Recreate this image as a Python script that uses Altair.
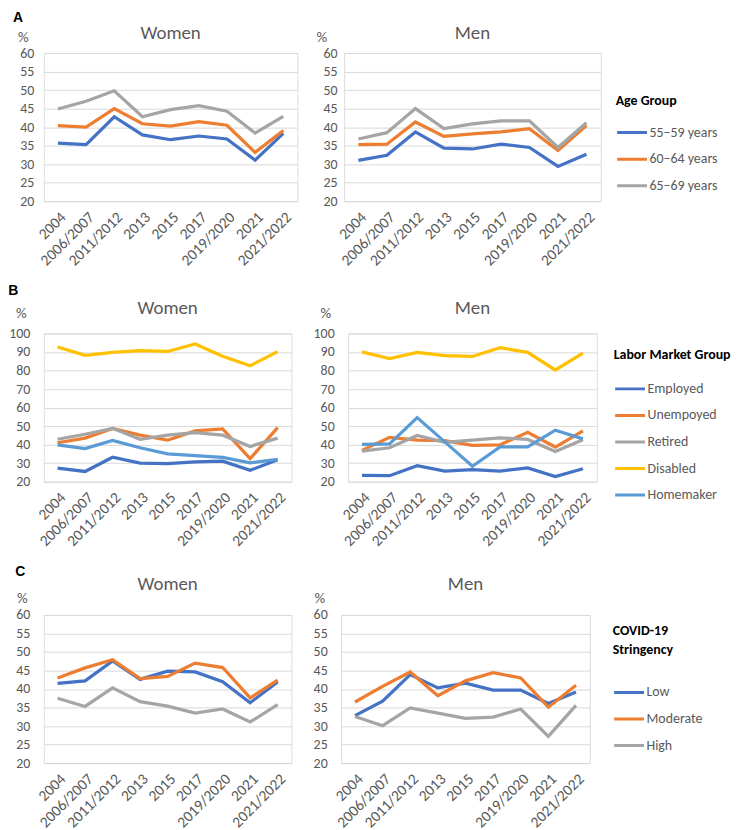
import altair as alt
import pandas as pd

periods = ["2004", "2006/2007", "2011/2012", "2013", "2015", "2017", "2019/2020", "2021", "2021/2022"]

# Panel A: Age group
age_groups = ["55–59 years", "60–64 years", "65–69 years"]
a_women_55 = [35.7, 35.3, 42.8, 37.9, 36.6, 37.6, 36.8, 31.1, 38.3]
a_women_60 = [40.4, 40.0, 45.0, 40.9, 40.3, 41.5, 40.5, 33.2, 39.1]
a_women_65 = [44.9, 47.0, 49.8, 42.8, 44.7, 45.8, 44.3, 38.4, 42.9]
a_men_55 = [31.0, 32.4, 38.7, 34.3, 34.1, 35.4, 34.5, 29.4, 32.7]
a_men_60 = [35.3, 35.4, 41.4, 37.5, 38.2, 38.7, 39.6, 33.7, 40.4]
a_men_65 = [36.8, 38.5, 45.0, 39.6, 40.9, 41.7, 41.7, 34.5, 41.2]

# Panel B: Labor market group
labor_groups = ["Employed", "Unempoyed", "Retired", "Disabled", "Homemaker"]
b_women_employed = [27.3, 25.5, 33.2, 30.0, 29.8, 30.7, 31.1, 26.1, 31.8]
b_women_unemployed = [41.0, 43.5, 48.7, 45.1, 42.4, 47.4, 48.5, 32.5, 49.2]
b_women_retired = [42.9, 45.6, 48.8, 42.9, 45.1, 46.5, 45.1, 39.0, 43.5]
b_women_disabled = [92.7, 88.2, 89.8, 90.7, 90.3, 94.3, 87.7, 82.6, 90.2]
b_women_homemaker = [39.9, 37.9, 42.2, 38.3, 35.0, 34.0, 33.1, 30.2, 32.0]
b_men_employed = [23.4, 23.2, 28.6, 25.7, 26.5, 25.7, 27.4, 22.7, 27.0]
b_men_unemployed = [36.9, 43.9, 42.4, 42.1, 39.6, 39.9, 46.7, 38.7, 47.4]
b_men_retired = [36.5, 38.3, 44.9, 41.2, 42.4, 43.7, 42.8, 36.3, 42.6]
b_men_disabled = [90.1, 86.5, 89.8, 88.0, 87.6, 92.3, 89.8, 80.3, 89.4]
b_men_homemaker = [40.1, 40.4, 54.6, 41.5, 28.3, 38.8, 38.8, 47.8, 43.1]

# Panel C: COVID-19 stringency
covid_groups = ["Low", "Moderate", "High"]
c_women_low = [41.5, 42.2, 47.6, 42.6, 44.8, 44.6, 42.0, 36.3, 41.9]
c_women_moderate = [43.0, 45.7, 47.9, 42.8, 43.4, 47.0, 45.8, 37.6, 42.4]
c_women_high = [37.5, 35.3, 40.3, 36.6, 35.4, 33.5, 34.6, 31.1, 35.8]
c_men_low = [32.8, 36.7, 43.9, 40.3, 41.6, 39.7, 39.7, 36.1, 39.2]
c_men_moderate = [36.5, 40.7, 44.6, 38.2, 42.2, 44.4, 43.0, 35.1, 41.0]
c_men_high = [32.6, 30.1, 34.9, 33.5, 32.1, 32.4, 34.6, 27.2, 35.6]

three_colors = ["#4472C4", "#ED7D31", "#A5A5A5"]
five_colors = ["#4472C4", "#ED7D31", "#A5A5A5", "#FFC000", "#5B9BD5"]

FONT = "Carlito, Calibri, Lato, sans-serif"
GRAY = "#595959"


def make_df(series, groups):
    rows = []
    for g, vals in zip(groups, series):
        for p, v in zip(periods, vals):
            rows.append({"period": p, "group": g, "value": v})
    return pd.DataFrame(rows)


def make_legend(x, y, title, tpad):
    return alt.Legend(
        orient="none", legendX=x, legendY=y, title=title,
        titleFont=FONT, titleFontSize=14, titleFontWeight="bold", titleColor="black",
        titlePadding=tpad, titleLineHeight=19,
        labelFont=FONT, labelFontSize=14, labelColor=GRAY, labelOffset=1, labelLimit=200,
        symbolType="stroke", symbolSize=900, symbolStrokeWidth=3,
        clipHeight=16, rowPadding=10.7, padding=0,
    )


def panel(df, title, title_offset, groups, colors, ydomain, yvalues, width, label_pad, pct_xy, legend):
    return alt.Chart(
        df,
        title=alt.TitleParams(title, fontSize=19, font=FONT, color=GRAY, fontWeight="normal",
                              offset=title_offset, anchor="middle"),
    ).mark_line(strokeWidth=3.25).encode(
        x=alt.X("period:N", sort=periods, scale=alt.Scale(type="point", padding=0.5),
                axis=alt.Axis(title=None, labelAngle=-45, labelFontSize=15.5, labelColor=GRAY,
                              labelFont=FONT, ticks=False, domain=False, grid=False, labelPadding=8)),
        y=alt.Y("value:Q", scale=alt.Scale(domain=ydomain, nice=False, zero=False),
                axis=alt.Axis(title="%", values=yvalues, titleAngle=0, titleX=pct_xy[0], titleY=pct_xy[1],
                              titleAlign="center", titleBaseline="middle", titleFontSize=15,
                              titleFontWeight="normal", titleColor=GRAY, titleFont=FONT,
                              labelFontSize=14, labelColor=GRAY, labelFont=FONT, ticks=False,
                              domain=False, gridColor="#d9d9d9", labelPadding=label_pad)),
        color=alt.Color("group:N", sort=groups, scale=alt.Scale(domain=groups, range=colors), legend=legend),
    ).properties(width=width, height=149)


def row(label, women, men, spacing, offset, dx):
    return alt.hconcat(women, men, spacing=spacing).resolve_scale(color="independent").properties(
        title=alt.TitleParams(label, anchor="start", fontSize=14, font="Liberation Sans",
                              fontWeight="bold", color="black", offset=offset, dx=dx)
    )


y_small = list(range(20, 61, 5))
y_big = list(range(20, 101, 10))

df_aw = make_df([a_women_55, a_women_60, a_women_65], age_groups)
df_am = make_df([a_men_55, a_men_60, a_men_65], age_groups)
df_bw = make_df([b_women_employed, b_women_unemployed, b_women_retired, b_women_disabled, b_women_homemaker], labor_groups)
df_bm = make_df([b_men_employed, b_men_unemployed, b_men_retired, b_men_disabled, b_men_homemaker], labor_groups)
df_cw = make_df([c_women_low, c_women_moderate, c_women_high], covid_groups)
df_cm = make_df([c_men_low, c_men_moderate, c_men_high], covid_groups)

row_a = row(
    "A",
    panel(df_aw, "Women", -14, age_groups, three_colors, [20, 60], y_small, 255, 10, (-21, -17), None),
    panel(df_am, "Men", -14, age_groups, three_colors, [20, 60], y_small, 258, 7, (-23, -17),
          make_legend(273, 41, "Age Group", 17)),
    17, -1, -4,
)
row_b = row(
    "B",
    panel(df_bw, "Women", -12, labor_groups, five_colors, [20, 100], y_big, 249, 14, (-23, -21), None),
    panel(df_bm, "Men", -12, labor_groups, five_colors, [20, 100], y_big, 250, 14, (-23, -21),
          make_legend(267, 15, "Labor Market Group", 18.7)),
    20, 0, 0,
)
row_c = row(
    "C",
    panel(df_cw, "Women", -3, covid_groups, three_colors, [20, 60], y_small, 249, 14, (-22, -17), None),
    panel(df_cm, "Men", -3, covid_groups, three_colors, [20, 60], y_small, 250, 14, (-22, -17),
          make_legend(273, 9.5, ["COVID-19", "Stringency"], 27.5)),
    20, -4, 0,
)

chart = alt.vconcat(row_a, row_b, row_c, spacing=14).resolve_scale(color="independent").properties(
    padding={"left": 0, "top": 0, "right": 0, "bottom": 0}
).configure_view(stroke=None).configure(background="white")

chart.save("out.html", embed_options={"renderer": "svg", "actions": False})
